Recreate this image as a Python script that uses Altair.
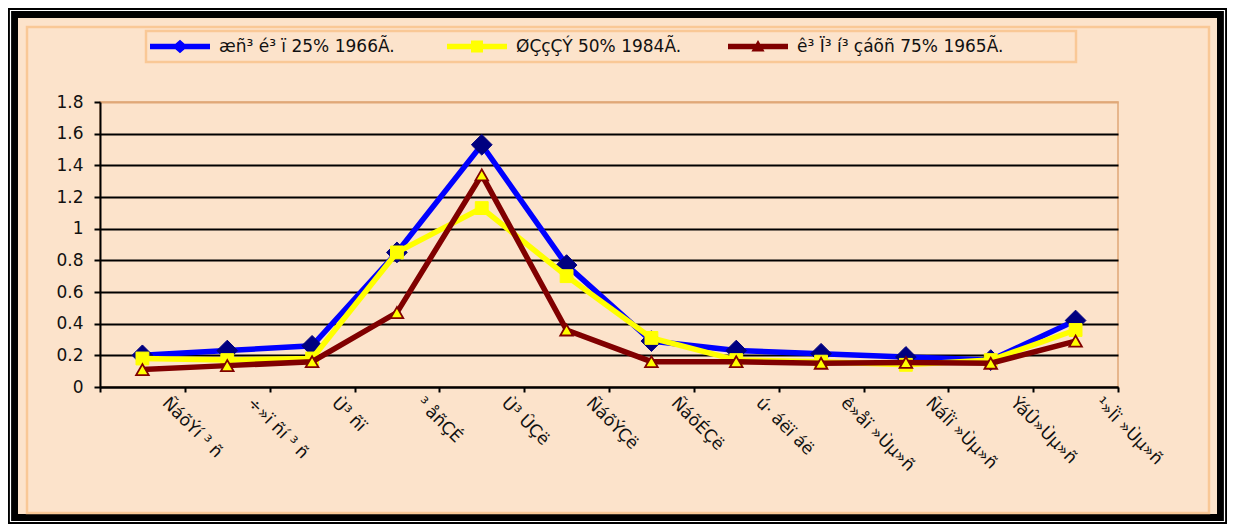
import altair as alt
import pandas as pd

months = ["ÑáõÝí ³ ñ", "÷»ï ñí ³ ñ", "Ù³ ñï", "³ åñÇÉ", "Ù³ ÛÇë", "ÑáõÝÇë",
          "ÑáõÉÇë", "ú· áëï áë", "ê»åï »Ùµ»ñ", "ÑáÏï »Ùµ»ñ", "ÝáÛ»Ùµ»ñ", "¹»Ïï »Ùµ»ñ"]

series_names = ["æñ³ é³ ï  25% 1966Ã.", "ØÇçÇÝ 50% 1984Ã.", "ê³ Ï³ í³ çáõñ 75% 1965Ã."]

wet = [0.20, 0.23, 0.26, 0.85, 1.53, 0.77, 0.29, 0.23, 0.21, 0.19, 0.17, 0.42]
mid = [0.18, 0.17, 0.18, 0.85, 1.13, 0.70, 0.31, 0.17, 0.16, 0.14, 0.17, 0.36]
dry = [0.11, 0.135, 0.16, 0.47, 1.34, 0.36, 0.16, 0.16, 0.15, 0.155, 0.15, 0.29]

y_ticks = [0, 0.2, 0.4, 0.6, 0.8, 1.0, 1.2, 1.4, 1.6, 1.8]

line_colors = ["#0000FF", "#FFFF00", "#800000"]
LINE = "M-2.5,-0.23L2.5,-0.23L2.5,0.23L-2.5,0.23Z "
legend_paths = [
    LINE + "M0,-0.56L0.64,0L0,0.56L-0.64,0Z",
    LINE + "M-0.5,-0.5L0.5,-0.5L0.5,0.5L-0.5,0.5Z",
    LINE + "M0,-0.55L0.55,0.42L-0.55,0.42Z",
]

rows = []
for name, vals in zip(series_names, [wet, mid, dry]):
    for m, v in zip(months, vals):
        rows.append({"month": m, "value": v, "series": name})
df = pd.DataFrame(rows)

PEACH = "#FCE3CB"
ORANGE = "#F9C896"
FONT = "DejaVu Sans"

x_enc = alt.X(
    "month:N", sort=months, title=None,
    scale=alt.Scale(type="band", paddingInner=0, paddingOuter=0),
    axis=alt.Axis(tickBand="extent", grid=False, domainColor="black", domainWidth=2,
                  tickColor="black", tickWidth=2, tickSize=5,
                  labelAngle=45, labelAlign="left", labelBaseline="middle",
                  labelOffset=22, labelPadding=8, labelFont=FONT, labelFontSize=17,
                  labelColor="#111111", labelLimit=300),
)
y_enc = alt.Y(
    "value:Q", title=None,
    scale=alt.Scale(domain=[0, 1.8], nice=False),
    axis=alt.Axis(values=y_ticks, format="~g", domainColor="black", domainWidth=2,
                  tickColor="black", tickWidth=2, tickSize=6, labelPadding=11,
                  labelFont=FONT, labelFontSize=17, labelColor="#111111",
                  gridColor={"condition": {"test": "datum.value >= 1.79", "value": "#E0A878"},
                             "value": "black"},
                  gridWidth=2),
)

one = pd.DataFrame({"k": [0]})
frame = alt.Chart(one).mark_rect(fill="transparent", stroke="black", strokeWidth=20).encode(
    x=alt.value(-92), x2=alt.value(1127), y=alt.value(-94), y2=alt.value(422))
frame_white = alt.Chart(one).mark_rect(fill="transparent", stroke="white", strokeWidth=1.2).encode(
    x=alt.value(-89.5), x2=alt.value(1124.5), y=alt.value(-91.5), y2=alt.value(419.5))
inner = alt.Chart(one).mark_rect(fill="transparent", stroke=ORANGE, strokeWidth=2.5).encode(
    x=alt.value(-73), x2=alt.value(1109), y=alt.value(-75), y2=alt.value(411))
legend_box = alt.Chart(one).mark_rect(fill="transparent", stroke=ORANGE, strokeWidth=2.5).encode(
    x=alt.value(46), x2=alt.value(976), y=alt.value(-71), y2=alt.value(-40))

layers = [frame, frame_white, inner, legend_box]
marker_specs = [
    dict(shape="diamond", fill="#000080", stroke="#000080", strokeWidth=1, size=430),
    dict(shape="square", fill="#FFFF00", stroke="#FFFF00", strokeWidth=1, size=165),
    dict(shape="triangle-up", fill="#FFFF00", stroke="#800000", strokeWidth=1.8, size=160),
]
for name, col, ms in zip(series_names, line_colors, marker_specs):
    base = alt.Chart(df).transform_filter(alt.datum.series == name)
    layers.append(base.mark_line(color=col, strokeWidth=5.5).encode(x=x_enc, y=y_enc))
    layers.append(base.mark_point(filled=True, opacity=1, **ms).encode(x=x_enc, y=y_enc))

leg = alt.Legend(title=None, orient="none", legendX=46, legendY=-71.5, direction="horizontal",
                 padding=4, symbolSize=576, symbolOffset=18,
                 symbolStrokeWidth=0, symbolOpacity=1, labelFont=FONT, labelFontSize=17,
                 labelColor="#111111", labelOffset=27, columnPadding=46, labelLimit=400)
legend_layer = alt.Chart(df).mark_point(filled=True, opacity=0).encode(
    x=x_enc, y=y_enc,
    fill=alt.Fill("series:N", scale=alt.Scale(domain=series_names, range=line_colors), legend=leg),
    shape=alt.Shape("series:N", scale=alt.Scale(domain=series_names, range=legend_paths), legend=leg),
)
layers.append(legend_layer)

chart = alt.layer(*layers).properties(
    width=1018, height=285,
    padding={"left": 92, "top": 94, "right": 109, "bottom": 137},
    autosize=alt.AutoSizeParams(type="none"),
).configure(background=PEACH).configure_view(stroke="#E0A878", strokeWidth=1.5)

chart.save("out.html", embed_options={"renderer": "svg", "actions": False})
